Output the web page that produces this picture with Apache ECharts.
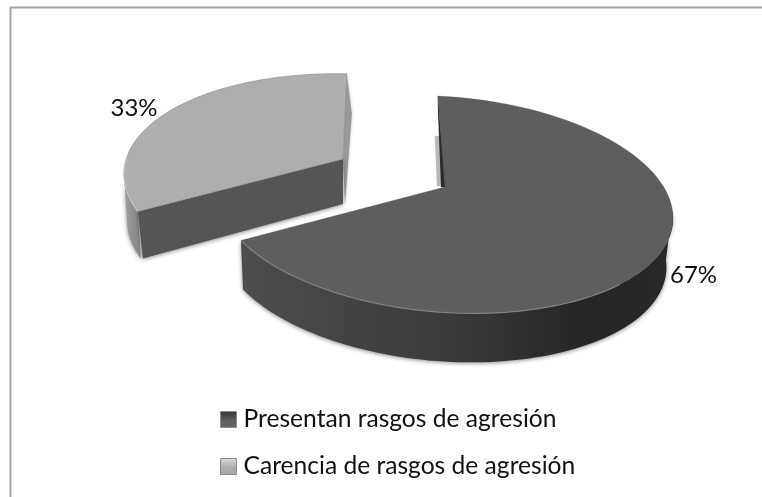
<!DOCTYPE html>
<html>
<head>
<meta charset="utf-8">
<style>html,body{margin:0;padding:0;background:#fff}#c{width:762px;height:497px}</style>
<script src="https://cdn.jsdelivr.net/npm/echarts@6/dist/echarts.min.js"></script>
</head>
<body>
<div id="c"></div>
<script>
const categories = ['Presentan rasgos de agresión', 'Carencia de rasgos de agresión'];
const shares = [67, 33];
const FONT = 'Lato';
const RAD = Math.PI / 180;
const total = shares[0] + shares[1];

// Projection of each exploded, tilted slice onto the page.
const views = [
  { cx: 445, cy: 204.5, rx: 228, ry: 108, shear: 13.7, apex: [445, 187], t0: -91.8, k: 1.017,
    depth: 49, sx: 0.98, sdx: -2, sideFrom: -4, sideTo: 180,
    face: '#5e5e5e', rim: '#828282', rimFrom: 40, rimTo: 153,
    side: ['#4d4d4d', '#3c3c3c', '#262626', '#282828'], sideX: [241, 670],
    label: [693.5, 275] },
  { cx: 353, cy: 182, rx: 229, ry: 108, shear: 8, apex: [343, 159], t0: 160, k: 0.913,
    depth: 47, sx: 1, sdx: 3, sideFrom: 160, sideTo: 180,
    face: '#aeaeae', rim: '#c4c4c4', rimFrom: 160, rimTo: 190,
    side: ['#a0a0a0', '#8e8e8e', '#8a8a8a', '#8a8a8a'], sideX: [124, 145],
    label: [134, 108] }
];

function rimPoint(v, t, drop) {
  const c = Math.cos(t * RAD), s = Math.sin(t * RAD);
  const p = [v.cx + v.rx * c, v.cy + v.shear * c + v.ry * s];
  if (drop) {
    p[0] = v.cx + v.sdx + v.rx * v.sx * c;
    p[1] += v.depth;
  }
  return p;
}
function arc(v, a, b, drop) {
  const pts = [], n = Math.max(4, Math.round(Math.abs(b - a) / 2));
  for (let i = 0; i <= n; i++) pts.push(rimPoint(v, a + (b - a) * i / n, drop));
  return pts;
}
const shadow = { shadowBlur: 4, shadowColor: 'rgba(0,0,0,0.45)', shadowOffsetY: 1 };

function renderSlice(idx) {
  return function (params, api) {
    const v = views[idx];
    const value = api.value(0);
    const sweep = value / total * 360 * v.k;
    const tA = v.t0, tB = v.t0 + sweep;
    const kids = [];
    const sideA = Math.max(v.sideFrom, tA), sideB = Math.min(v.sideTo, tB);
    kids.push({
      type: 'polygon',
      shape: { points: arc(v, sideA, sideB, false).concat(arc(v, sideB, sideA, true)) },
      style: Object.assign({
        fill: { type: 'linear', global: true, x: v.sideX[0], y: 0, x2: v.sideX[1], y2: 0,
          colorStops: [
            { offset: 0, color: v.side[0] }, { offset: 0.45, color: v.side[1] },
            { offset: 0.8, color: v.side[2] }, { offset: 1, color: v.side[3] }] }
      }, shadow)
    });
    if (idx === 0) {
      const top = rimPoint(v, tA);
      kids.push({ type: 'polygon',
        shape: { points: [[top[0] - 3, 136], [top[0] + 4, 136], [v.apex[0], v.apex[1]], [v.apex[0] - 8, v.apex[1] - 1]] },
        style: { fill: 'rgba(150,150,150,0.6)', shadowBlur: 2, shadowColor: 'rgba(0,0,0,0.15)' } });
    } else {
      const front = rimPoint(v, tA), end = rimPoint(v, tB);
      kids.push({ type: 'polygon',
        shape: { points: [[end[0], end[1]], [end[0] + 5, 114], [v.apex[0] + 2, v.apex[1] + v.depth - 2], [v.apex[0], v.apex[1]]] },
        style: { fill: '#999999', shadowBlur: 3, shadowColor: 'rgba(0,0,0,0.25)' } });
      kids.push({ type: 'polygon',
        shape: { points: [front, v.apex, [v.apex[0], v.apex[1] + v.depth - 2], [front[0] + 5, front[1] + v.depth]] },
        style: Object.assign({ fill: '#555555' }, shadow) });
    }
    kids.push({ type: 'polygon',
      shape: { points: [v.apex].concat(arc(v, tA, tB, false)) },
      style: { fill: v.face, stroke: idx === 0 ? 'rgba(70,70,70,0.35)' : 'rgba(130,130,130,0.55)', lineWidth: 1 } });
    if (idx === 0) {
      const top = rimPoint(v, tA);
      kids.push({ type: 'polygon',
        shape: { points: [top, [v.apex[0], v.apex[1]], [v.apex[0] - 4, v.apex[1]], [top[0], top[1] + 12]] },
        style: { fill: '#2c2c2c' } });
    }
    kids.push({ type: 'polyline',
      shape: { points: arc(v, Math.max(v.rimFrom, tA), Math.min(v.rimTo, tB), false) },
      style: { fill: 'none', stroke: v.rim, lineWidth: 1.2 } });
    kids.push({ type: 'text',
      style: { x: v.label[0], y: v.label[1], text: value + '%', fill: '#111',
        font: '24px ' + FONT, textAlign: 'center', textVerticalAlign: 'middle' } });
    return { type: 'group', children: kids };
  };
}

const iconFills = [
  { type: 'linear', x: 0, y: 0, x2: 0, y2: 1, colorStops: [
    { offset: 0, color: '#333' }, { offset: 0.55, color: '#5e5e5e' }, { offset: 1, color: '#666' }] },
  { type: 'linear', x: 0, y: 0, x2: 0, y2: 1, colorStops: [
    { offset: 0, color: '#dcdcdc' }, { offset: 0.55, color: '#aeaeae' }, { offset: 1, color: '#a8a8a8' }] }
];

const chart = echarts.init(document.getElementById('c'), null, { renderer: 'canvas' });
chart.setOption({
  animation: false,
  backgroundColor: '#ffffff',
  legend: {
    orient: 'vertical', left: 220, top: 407, itemWidth: 16, itemHeight: 16, itemGap: 22, padding: 0,
    selectedMode: false,
    textStyle: { fontFamily: FONT, fontSize: 24.6, color: '#111', padding: [0, 0, 0, 2] },
    data: categories.map((name, i) => ({
      name, icon: 'rect',
      itemStyle: { color: iconFills[i], borderColor: '#8c8c8c', borderWidth: 1 }
    }))
  },
  graphic: [
    { type: 'polyline', silent: true, shape: { points: [[10.5, 497], [10.5, 7.5], [762, 7.5]] },
      style: { fill: 'none', stroke: '#a2a2a2', lineWidth: 2 } }
  ],
  series: categories.map((name, i) => ({
    type: 'custom', name, coordinateSystem: 'none', silent: true,
    itemStyle: { color: views[i].face },
    renderItem: renderSlice(i),
    data: [[shares[i]]]
  }))
});
</script>
</body>
</html>
